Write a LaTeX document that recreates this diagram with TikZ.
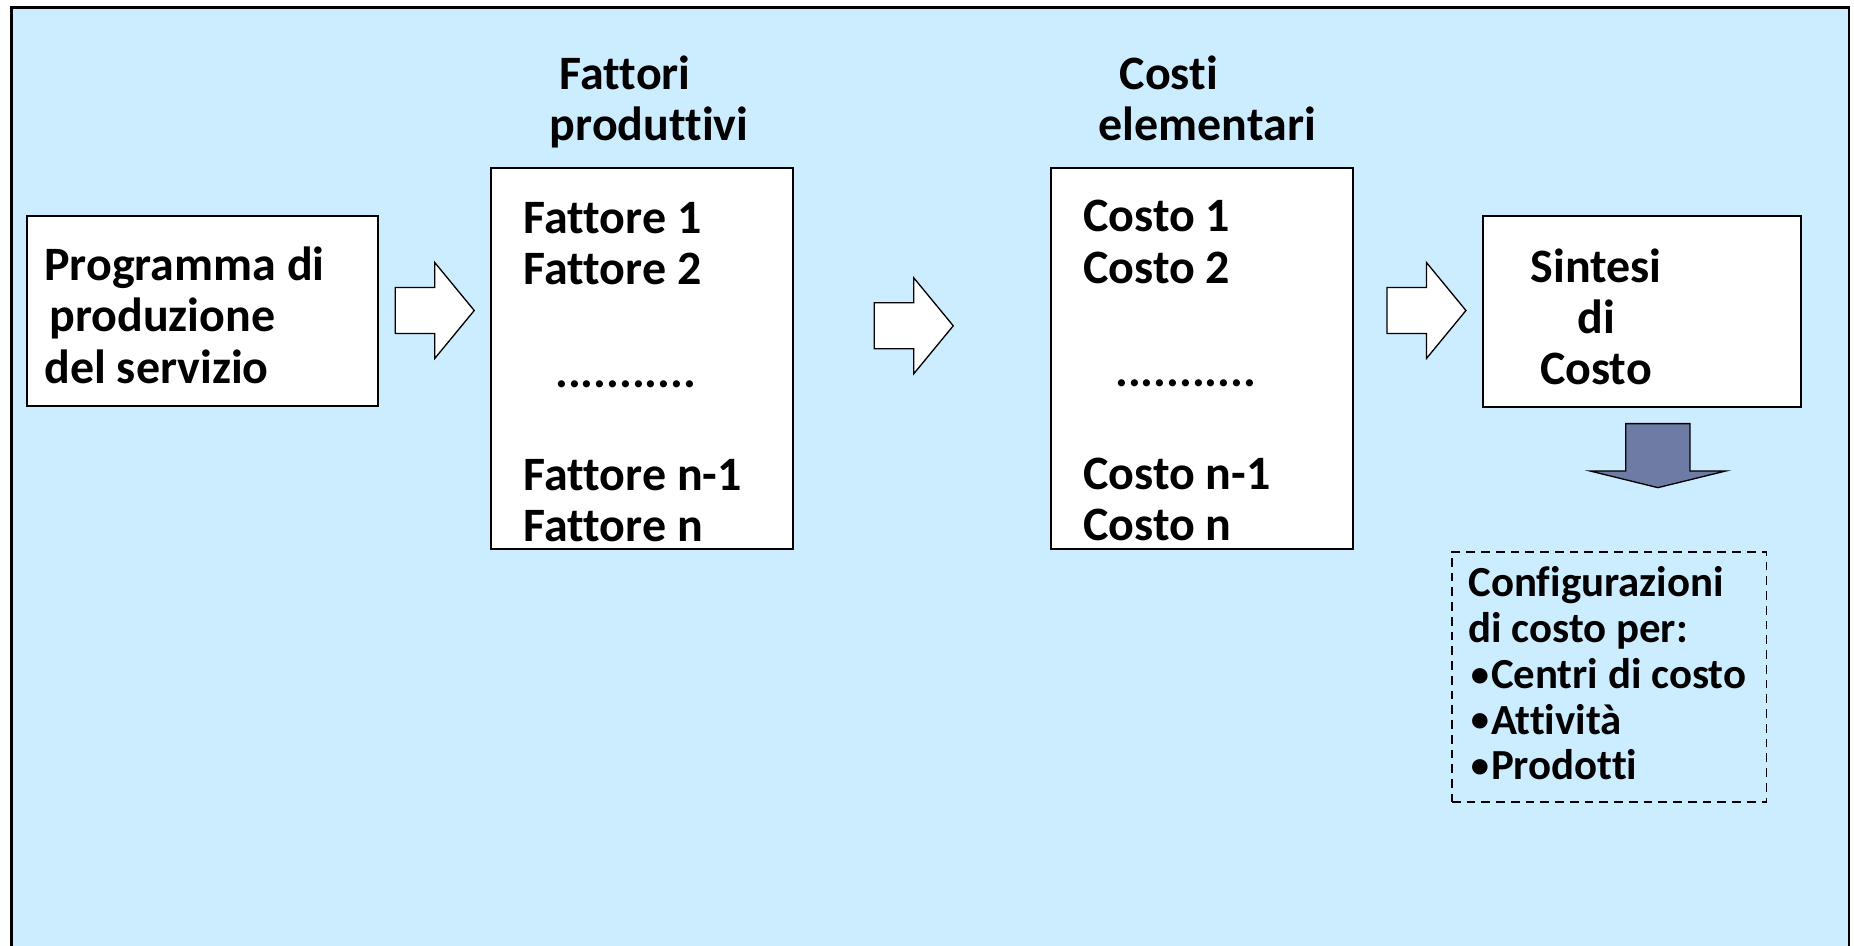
\documentclass[tikz,border=0pt]{standalone}
\usepackage{fontspec}
\setmainfont{Carlito}[Ligatures={NoCommon}]

\definecolor{sfondo}{HTML}{CCECFF}
\definecolor{bluscuro}{HTML}{6E7BA5}
\newcommand{\punto}{\hspace*{0.05cm}\raisebox{0.05em}{\scalebox{0.85}{\textbullet}}\hspace*{0.04cm}}

\begin{document}
\begin{tikzpicture}[x=0.02cm, y=-0.02cm,
	every node/.style={font=\bfseries\fontsize{27.3}{29.3}\selectfont},
	riquadro/.style={draw, fill=white, line width=1.1pt, inner sep=0pt},
	testo/.style={inner sep=0pt, anchor=north west, align=left},
	freccia/.style={draw, fill=white, line width=0.75pt, line join=miter}]
	\useasboundingbox (0,0) rectangle (1854,946);
	\clip (0,0) rectangle (1854,946);
	\draw[fill=sfondo, line width=1.6pt] (11.7,7.3) rectangle (1849,970);
	% i riquadri
	\node[riquadro, minimum width=7.014cm, minimum height=3.8cm] (prog) at (202.35,311) {};
	\node[riquadro, minimum width=6.034cm, minimum height=7.62cm] (fat) at (641.85,358.8) {};
	\node[riquadro, minimum width=6.034cm, minimum height=7.62cm] (cost) at (1201.85,358.8) {};
	\node[riquadro, minimum width=6.354cm, minimum height=3.814cm] (sint) at (1642.15,311.35) {};
	\node[riquadro, fill=none, dash pattern=on 5pt off 3.4pt, minimum width=6.296cm, minimum height=5cm] (conf) at (1609.1,676.7) {};
	% testi
	\node[testo] (progtxt) at (44,246.5) {Programma di\\\hspace*{0.1cm}produzione\\del servizio};
	\node[testo] (fathead) at (549.5,55.5) {\hspace*{0.2cm}Fattori\\produttivi};
	\node[testo] (costhead) at (1098.4,55.5) {\hspace*{0.42cm}Costi\\elementari};
	\node[testo] (fattxt) at (523.4,201.5) {Fattore 1\\Fattore 2\\\mbox{}\\\hspace*{0.63cm}...........\\\mbox{}\\Fattore n-1\\Fattore n};
	\node[testo] (costtxt) at (1083,200) {Costo 1\\Costo 2\\\mbox{}\\\hspace*{0.64cm}...........\\\mbox{}\\Costo n-1\\Costo n};
	\node[inner sep=0pt, anchor=north, align=center] (sinttxt) at (1596,248) {Sintesi\\di\\Costo};
	\node[testo, font=\bfseries\fontsize{24.4}{26.1}\selectfont] (conftxt) at (1468,566) {Configurazioni\\di costo per:\\\punto Centri di costo\\\punto Attività\\\punto Prodotti};
	% frecce
	\draw[freccia] ([shift={(16.6,-23.5)}]prog.east) -- ++(39.5,0) -- ++(0,-25) -- ++(39.5,48) -- ++(-39.5,48) -- ++(0,-25) -- ++(-39.5,0) -- cycle;
	\draw[freccia] ([shift={(80.6,-56)}]fat.east) -- ++(39.5,0) -- ++(0,-25) -- ++(39.5,48) -- ++(-39.5,48) -- ++(0,-25) -- ++(-39.5,0) -- cycle;
	\draw[freccia] ([shift={(33.3,-71.3)}]cost.east) -- ++(39.5,0) -- ++(0,-25) -- ++(39.5,48) -- ++(-39.5,48) -- ++(0,-25) -- ++(-39.5,0) -- cycle;
	\draw[freccia, fill=bluscuro] ([shift={(-16.5,16)}]sint.south) -- ++(64.3,0) -- ++(0,47.3) -- ++(36,0) -- ++(-68.1,16.7) -- ++(-67.9,-16.7) -- ++(35.7,0) -- cycle;
\end{tikzpicture}
\end{document}
